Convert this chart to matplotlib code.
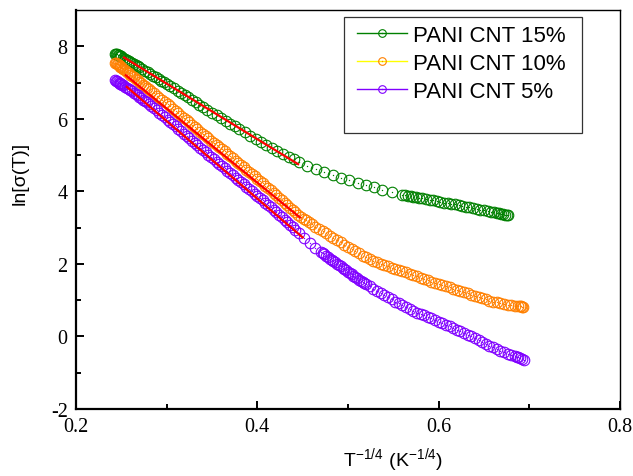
import matplotlib
matplotlib.use("Agg")
import matplotlib.pyplot as plt
import matplotlib.ticker as ticker
from matplotlib.lines import Line2D
from matplotlib.patches import Rectangle
from matplotlib.legend_handler import HandlerTuple

# T^-1/4 (K^-1/4) and ln[sigma(T)]
x15 = [0.243, 0.244, 0.245, 0.246, 0.247, 0.248, 0.249, 0.250, 0.252, 0.254,
       0.256, 0.258, 0.260, 0.262, 0.264, 0.266, 0.268, 0.270, 0.273, 0.276,
       0.279, 0.282, 0.285, 0.288, 0.291, 0.294, 0.297, 0.300, 0.304, 0.308,
       0.312, 0.316, 0.320, 0.324, 0.328, 0.332, 0.336, 0.340, 0.345, 0.350,
       0.355, 0.360, 0.365, 0.370, 0.375, 0.380, 0.386, 0.392, 0.398, 0.404,
       0.410, 0.416, 0.422, 0.428, 0.435, 0.440, 0.446, 0.455, 0.4645, 0.474,
       0.483, 0.492, 0.5015, 0.511, 0.520, 0.529, 0.538, 0.549, 0.560, 0.563,
       0.566, 0.569, 0.572, 0.575, 0.578, 0.582, 0.586, 0.590, 0.594, 0.598,
       0.602, 0.606, 0.610, 0.614, 0.618, 0.622, 0.626, 0.630, 0.634, 0.638,
       0.642, 0.646, 0.650, 0.654, 0.658, 0.661, 0.664, 0.667, 0.669, 0.671,
       0.673, 0.675, 0.677]
y15 = [7.80, 7.79, 7.78, 7.76, 7.75, 7.74, 7.73, 7.72, 7.69, 7.66,
       7.63, 7.60, 7.57, 7.54, 7.51, 7.48, 7.45, 7.42, 7.37, 7.33,
       7.28, 7.24, 7.19, 7.15, 7.10, 7.05, 7.01, 6.96, 6.90, 6.84,
       6.77, 6.71, 6.65, 6.59, 6.52, 6.46, 6.39, 6.33, 6.25, 6.17,
       6.10, 6.02, 5.94, 5.87, 5.79, 5.72, 5.63, 5.54, 5.45, 5.36,
       5.28, 5.20, 5.11, 5.03, 4.94, 4.88, 4.80, 4.70, 4.61, 4.53,
       4.46, 4.38, 4.31, 4.24, 4.17, 4.11, 4.05, 3.99, 3.90, 3.89,
       3.88, 3.86, 3.85, 3.84, 3.83, 3.81, 3.79, 3.77, 3.75, 3.73,
       3.71, 3.69, 3.67, 3.66, 3.64, 3.62, 3.60, 3.58, 3.56, 3.54,
       3.52, 3.50, 3.48, 3.46, 3.44, 3.42, 3.41, 3.39, 3.38, 3.37,
       3.36, 3.35, 3.34]

x10 = [0.243, 0.244, 0.245, 0.246, 0.247, 0.248, 0.249, 0.250, 0.251, 0.252,
       0.254, 0.256, 0.258, 0.260, 0.262, 0.264, 0.266, 0.268, 0.270, 0.272,
       0.274, 0.276, 0.278, 0.280, 0.283, 0.286, 0.289, 0.292, 0.295, 0.298,
       0.301, 0.304, 0.307, 0.310, 0.313, 0.316, 0.319, 0.322, 0.325, 0.328,
       0.331, 0.334, 0.337, 0.340, 0.343, 0.346, 0.349, 0.352, 0.355, 0.358,
       0.361, 0.364, 0.367, 0.370, 0.373, 0.376, 0.379, 0.382, 0.385, 0.388,
       0.391, 0.394, 0.397, 0.400, 0.403, 0.406, 0.409, 0.412, 0.415, 0.418,
       0.421, 0.424, 0.427, 0.430, 0.433, 0.436, 0.439, 0.442, 0.445, 0.448,
       0.451, 0.454, 0.457, 0.460, 0.464, 0.468, 0.472, 0.476, 0.480, 0.484,
       0.488, 0.492, 0.496, 0.500, 0.504, 0.508, 0.512, 0.516, 0.520, 0.524,
       0.528, 0.532, 0.536, 0.540, 0.544, 0.548, 0.552, 0.556, 0.560, 0.564,
       0.568, 0.572, 0.576, 0.580, 0.584, 0.588, 0.592, 0.596, 0.600, 0.604,
       0.608, 0.612, 0.616, 0.620, 0.624, 0.628, 0.632, 0.636, 0.640, 0.644,
       0.648, 0.652, 0.656, 0.660, 0.664, 0.668, 0.672, 0.676, 0.680, 0.684,
       0.688, 0.690, 0.691, 0.692, 0.693]
y10 = [7.55, 7.54, 7.52, 7.50, 7.48, 7.46, 7.44, 7.42, 7.40, 7.38,
       7.34, 7.30, 7.26, 7.22, 7.18, 7.14, 7.10, 7.06, 7.02, 6.98,
       6.94, 6.90, 6.86, 6.82, 6.76, 6.70, 6.64, 6.58, 6.52, 6.46,
       6.40, 6.34, 6.27, 6.21, 6.15, 6.08, 6.02, 5.96, 5.90, 5.83,
       5.77, 5.71, 5.64, 5.58, 5.52, 5.46, 5.40, 5.34, 5.28, 5.22,
       5.16, 5.10, 5.04, 4.98, 4.91, 4.85, 4.79, 4.73, 4.67, 4.60,
       4.54, 4.48, 4.41, 4.35, 4.29, 4.22, 4.16, 4.09, 4.03, 3.96,
       3.90, 3.83, 3.76, 3.69, 3.62, 3.55, 3.48, 3.42, 3.36, 3.30,
       3.25, 3.20, 3.15, 3.10, 3.03, 2.97, 2.90, 2.84, 2.78, 2.72,
       2.66, 2.60, 2.53, 2.47, 2.41, 2.35, 2.29, 2.23, 2.18, 2.13,
       2.09, 2.05, 2.01, 1.97, 1.94, 1.90, 1.87, 1.84, 1.80, 1.77,
       1.73, 1.69, 1.66, 1.62, 1.58, 1.55, 1.51, 1.48, 1.45, 1.42,
       1.39, 1.35, 1.32, 1.29, 1.26, 1.22, 1.19, 1.15, 1.12, 1.09,
       1.05, 1.02, 0.99, 0.96, 0.94, 0.92, 0.90, 0.88, 0.86, 0.85,
       0.84, 0.83, 0.83, 0.82, 0.82]

x5 = [0.243, 0.244, 0.245, 0.246, 0.247, 0.248, 0.249, 0.250, 0.251, 0.252,
      0.254, 0.256, 0.258, 0.260, 0.262, 0.264, 0.266, 0.268, 0.270, 0.272,
      0.274, 0.276, 0.278, 0.280, 0.283, 0.286, 0.289, 0.292, 0.295, 0.298,
      0.301, 0.304, 0.307, 0.310, 0.313, 0.316, 0.319, 0.322, 0.325, 0.328,
      0.331, 0.334, 0.337, 0.340, 0.343, 0.346, 0.349, 0.352, 0.355, 0.358,
      0.361, 0.364, 0.367, 0.370, 0.373, 0.376, 0.379, 0.382, 0.385, 0.388,
      0.391, 0.394, 0.397, 0.400, 0.403, 0.406, 0.409, 0.412, 0.415, 0.418,
      0.421, 0.424, 0.427, 0.430, 0.433, 0.436, 0.439, 0.442, 0.446, 0.452,
      0.458, 0.464, 0.470, 0.472, 0.474, 0.476, 0.478, 0.480, 0.482, 0.484,
      0.486, 0.488, 0.490, 0.492, 0.494, 0.496, 0.498, 0.500, 0.502, 0.504,
      0.506, 0.508, 0.510, 0.512, 0.514, 0.516, 0.518, 0.520, 0.524, 0.528,
      0.532, 0.536, 0.540, 0.544, 0.548, 0.552, 0.556, 0.560, 0.564, 0.568,
      0.572, 0.576, 0.580, 0.584, 0.588, 0.592, 0.596, 0.600, 0.604, 0.608,
      0.612, 0.616, 0.620, 0.624, 0.628, 0.632, 0.636, 0.640, 0.644, 0.648,
      0.652, 0.656, 0.660, 0.664, 0.668, 0.672, 0.676, 0.680, 0.684, 0.686,
      0.688, 0.690, 0.692, 0.694]
y5 = [7.06, 7.05, 7.03, 7.02, 7.00, 6.99, 6.97, 6.95, 6.94, 6.92,
      6.89, 6.86, 6.83, 6.80, 6.76, 6.72, 6.69, 6.65, 6.61, 6.57,
      6.53, 6.50, 6.46, 6.42, 6.36, 6.30, 6.23, 6.17, 6.11, 6.04,
      5.98, 5.91, 5.85, 5.79, 5.72, 5.66, 5.59, 5.53, 5.46, 5.40,
      5.33, 5.27, 5.20, 5.14, 5.08, 5.01, 4.95, 4.89, 4.82, 4.76,
      4.70, 4.64, 4.57, 4.51, 4.45, 4.38, 4.32, 4.26, 4.19, 4.13,
      4.07, 4.01, 3.94, 3.88, 3.82, 3.75, 3.69, 3.62, 3.56, 3.49,
      3.43, 3.36, 3.29, 3.22, 3.15, 3.08, 3.01, 2.94, 2.85, 2.72,
      2.58, 2.45, 2.33, 2.29, 2.26, 2.22, 2.18, 2.14, 2.11, 2.07,
      2.04, 2.00, 1.96, 1.93, 1.89, 1.85, 1.82, 1.78, 1.74, 1.71,
      1.67, 1.64, 1.60, 1.57, 1.53, 1.50, 1.47, 1.44, 1.38, 1.32,
      1.26, 1.20, 1.14, 1.08, 1.02, 0.96, 0.91, 0.86, 0.81, 0.76,
      0.71, 0.66, 0.62, 0.58, 0.54, 0.50, 0.46, 0.41, 0.37, 0.32,
      0.28, 0.23, 0.19, 0.14, 0.10, 0.05, 0.00, -0.05, -0.10, -0.15,
      -0.20, -0.25, -0.30, -0.35, -0.39, -0.44, -0.48, -0.51, -0.54, -0.56,
      -0.58, -0.60, -0.62, -0.64]

# linear VRH fits (red lines)
fit15_x = [0.253, 0.445]
fit15_y = [7.69, 4.75]
fit10_x = [0.255, 0.447]
fit10_y = [7.20, 3.28]
fit5_x = [0.256, 0.450]
fit5_y = [6.88, 2.73]

labels = ["PANI CNT 15%", "PANI CNT 10%", "PANI CNT 5%"]
colors = ["#008000", "#FF8000", "#8000FF"]
legend_line_colors = ["#008000", "#FFFF00", "#8000FF"]

plt.rcParams["font.family"] = "Liberation Serif"

fig = plt.figure(figsize=(6.33, 4.77), dpi=100)
ax = fig.add_axes([76 / 633, 1 - 410 / 477, 544 / 633, 399 / 477])

series = [(x15, y15), (x10, y10), (x5, y5)]
for (xs, ys), c in zip(series, colors):
    ax.plot(xs, ys, ls="none", marker="o", ms=7.6, mfc="none", mec=c, mew=0.8)
    ax.plot(xs, ys, ls="none", marker="o", ms=1.0, mfc=c, mec=c, mew=0)

for fx, fy in [(fit15_x, fit15_y), (fit10_x, fit10_y), (fit5_x, fit5_y)]:
    ax.plot(fx, fy, color="#FF0000", lw=1.6)

ax.set_xlim(0.2, 0.8)
ax.set_ylim(-2, 9)
ax.xaxis.set_major_locator(ticker.MultipleLocator(0.2))
ax.xaxis.set_minor_locator(ticker.MultipleLocator(0.1))
ax.yaxis.set_major_locator(ticker.FixedLocator([-2, 0, 2, 4, 6, 8]))
ax.yaxis.set_minor_locator(ticker.FixedLocator([-1, 1, 3, 5, 7]))
ax.xaxis.set_major_formatter(ticker.FormatStrFormatter("%.1f"))
ax.yaxis.set_major_formatter(ticker.FormatStrFormatter("%d"))

ax.tick_params(which="both", direction="in", top=False, right=False,
               width=1.4, labelsize=14.5)
ax.tick_params(which="major", length=6)
ax.tick_params(which="minor", length=3.5)
ax.tick_params(axis="x", pad=6)
ax.tick_params(axis="y", pad=6)
for side in ["left", "bottom"]:
    ax.spines[side].set_linewidth(1.6)
for side in ["top", "right"]:
    ax.spines[side].set_linewidth(1.0)

ax.set_xlabel(r"$\mathregular{T^{-1/4}\ (K^{-1/4})}$", fontsize=14,
              family="Liberation Sans")
ax.xaxis.label.set_va("baseline")
ax.xaxis.set_label_coords(0.583, -0.141)
ax.set_ylabel("ln[σ(T)]", fontsize=14, family="Liberation Sans")
ax.yaxis.label.set_va("center")
ax.yaxis.set_label_coords(-0.103, 0.594)

# legend box
ax.add_patch(Rectangle((0.4926, 0.6917), 0.4375, 0.2907, transform=ax.transAxes,
                       fill=False, ec="#333333", lw=0.9, zorder=5))
handles = []
for c, lc in zip(colors, legend_line_colors):
    h1 = Line2D([], [], color=lc, lw=1.0, marker="o", ms=5.5, mfc="none", mec=c, mew=0.8)
    h2 = Line2D([], [], ls="none", marker="o", ms=1.0, mfc=c, mec=c, mew=0)
    handles.append((h1, h2))
leg = ax.legend(handles, labels, handler_map={tuple: HandlerTuple(ndivide=1, pad=0)},
                loc="upper left", bbox_to_anchor=(0.5165, 0.9625), frameon=False,
                borderpad=0, borderaxespad=0, handlelength=2.25, handletextpad=0.27,
                labelspacing=0.31, prop={"family": "Liberation Sans", "size": 16})

fig.savefig("out.png", dpi=100)
